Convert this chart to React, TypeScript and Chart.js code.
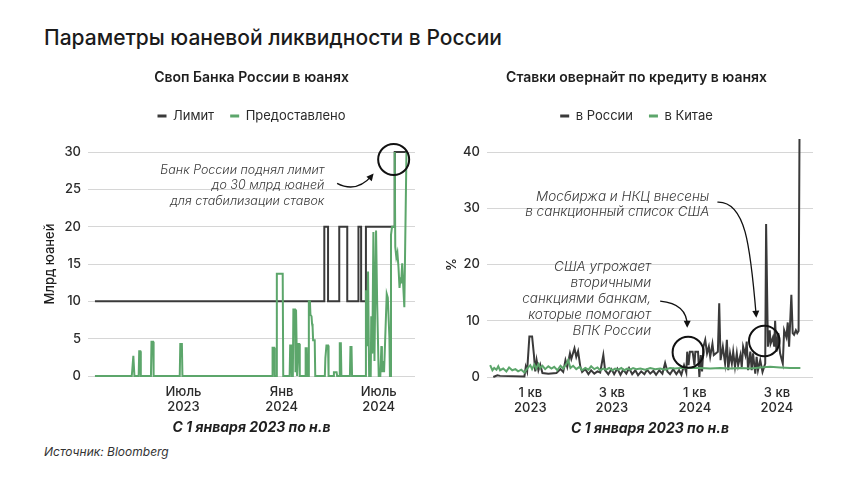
import React, { useEffect, useRef } from "react";
import { Chart, registerables } from "chart.js";

Chart.register(...registerables);

const FONT = "Inter, 'Noto Sans', 'DejaVu Sans', sans-serif";
const DARK = "#3a3a3a";
const GREEN = "#5ca66b";
const GRID = "#d6d6d6";
const TEXT = "#2a2a2a";

// ---------- Left chart: swap (days since 1 Jan 2023) ----------
const swapLimitDays = [15, 445, 452, 473, 488, 509, 514, 523, 577, 600];
const swapLimitValues = [10, 20, 10, 20, 10, 20, 10, 20, 30, 30];

const swapProvidedDays = [
  15, 84, 85, 86, 87, 88, 89,
  97, 98, 100, 101,
  120, 121, 124, 125,
  174, 175, 178, 179,
  347, 348, 351, 352,
  355, 356, 367, 368,
  380, 381, 383, 384,
  386, 387, 390, 391, 392, 393, 394,
  395, 396, 398, 399,
  409, 410, 412, 413,
  415, 416, 418, 419, 421, 422, 423, 424, 427, 428,
  446, 447, 448, 449, 452, 453,
  462, 463, 468, 469,
  473, 474, 476, 477,
  493, 494, 496, 497,
  522, 523, 525, 527, 529, 532, 533, 535, 537, 539, 542, 544, 547,
  550, 552, 553, 555, 557, 562, 564, 567, 568,
  569, 570, 572, 576, 577, 578, 580, 582, 584, 586, 588, 589, 591, 593, 595, 599,
];
const swapProvidedValues = [
  0, 0, 0.8, 0.8, 2.7, 2.7, 0,
  0, 3.3, 3.3, 0,
  0, 4.6, 4.6, 0,
  0, 4.3, 4.3, 0,
  0, 3.8, 3.8, 0,
  0, 13.7, 13.7, 0,
  0, 4.1, 4.1, 0,
  0, 8.9, 8.9, 0.5, 8.9, 8.9, 0,
  0, 4.3, 4.3, 0,
  0, 3.7, 3.7, 0,
  0, 10, 10, 8.2, 8.0, 7.0, 6.6, 4.8, 4.8, 0,
  0, 2.4, 2.4, 4.1, 4.1, 0,
  0, 0.5, 0.5, 0,
  0, 4.4, 4.4, 0,
  0, 3.9, 3.9, 0,
  0, 11.5, 4, 14, 0, 0, 8, 3, 19.3, 2, 19.5, 10, 0,
  0, 4, 0.5, 2, 0.5, 11, 10.5, 5.2, 0,
  0, 18.9, 20, 20, 30, 17.3, 15.9, 16.5, 14.6, 11.8, 13.2, 12.4, 15.1, 12, 9.2, 30,
];
const swapTickDays = [181, 365, 547];
const swapTickLabels = [["Июль", "2023"], ["Янв", "2024"], ["Июль", "2024"]];

// ---------- Right chart: overnight rates (days since 1 Jan 2023) ----------
const rateRuDays = [
  -82, -73, -67, -13, -10, -7, -2, 4, 8, 11, 14, 18, 22, 27,
  40, 58, 67, 73, 78, 82, 88, 91, 98, 102, 106, 111, 115, 122, 129, 135, 142, 149, 155, 162, 166, 173,
  180, 186, 193, 200, 206, 213, 219, 226, 233, 239, 246, 253, 259, 266, 273, 279, 286, 293, 299, 304, 310, 317, 324, 330, 335, 341, 346,
  348, 351, 354, 360, 364, 366, 372, 375, 378, 381, 384, 388, 392, 396, 399, 404, 407, 416, 419, 422,
  427, 432, 436, 439, 443, 447, 450, 454, 458, 461, 466, 469, 472, 477, 480, 483, 488, 491, 494, 499, 502, 505, 510, 515, 521,
  523, 527, 531, 533, 538, 541, 543, 546, 550, 554, 558, 560, 563, 568, 571, 574, 579, 582, 585, 589, 592, 595, 597,
];
const rateRuValues = [
  0, 0.3, 0.2, 0.1, 1.8, 1.0, 7.2, 7.2, 4.0, 1.0, 3.0, 1.2, 2.2, 0.7,
  0.6, 0.7, 1.4, 0.9, 3.0, 1.8, 4.2, 3.2, 5.1, 3.6, 4.6, 1.8, 0.9, 1.4, 0.5, 1.2, 0.6, 1.0, 0.8, 3.9, 1.2, 0.5,
  1.4, 0.5, 1.5, 0.4, 1.3, 0.6, 1.6, 0.5, 1.2, 0.3, 1.0, 0.5, 1.3, 0.6, 1.1, 0.4, 1.2, 0.6, 2.5, 1.0, 0.5, 1.4, 0.5, 1.2, 0.4, 2.1, 0.8,
  4.5, 2.1, 4.5, 4.5, 2.1, 4.5, 4.5, 0, 3.9, 1.0, 5.4, 6.6, 4.2, 5.4, 3.6, 5.9, 3.9, 4.5, 13.1, 3.0,
  5.4, 2.4, 6.6, 1.2, 4.2, 2.4, 4.5, 1.8, 4.2, 2.1, 3.9, 1.8, 5.4, 3.9, 6.3, 1.2, 4.5, 1.2, 4.2, 0.6, 3.6, 1.2, 3.0, 0.9, 2.4,
  27.2, 5.4, 8.3, 5.9, 7.0, 5.4, 10, 4.5, 7.8, 4.2, 3.0, 2.4, 8.3, 7.1, 9.7, 5.4, 14.6, 7.8, 7.5, 8.3, 7.8, 8.2, 42.3,
];
const rateCnDays = [
  -89, -84, -80, -75, -71, -67, -60, -53, -47, -40, -33, -27, -20, -13, -7,
  0, 4, 9, 13, 18, 22, 27, 33, 40, 47, 53, 60, 67, 73, 80, 84, 89, 95,
  102, 109, 115, 122, 129, 135, 142, 149, 155, 162, 168, 175, 182, 188, 195, 202, 208, 215, 222, 228, 235,
  244, 255, 266, 277, 288, 299, 310, 321, 333, 355, 377, 399, 421, 443, 466, 488, 510, 532, 554, 576, 599,
];
const rateCnValues = [
  2.1, 1.2, 1.6, 1.3, 1.9, 1.2, 1.5, 1.0, 1.7, 1.2, 1.4, 1.0, 1.3, 0.8, 1.5,
  2.1, 1.4, 2.2, 1.5, 2.3, 1.6, 2.0, 1.4, 1.9, 1.5, 1.8, 1.2, 2.0, 1.5, 2.3, 3.0, 1.6, 2.0,
  1.4, 1.8, 1.2, 1.6, 1.3, 1.9, 1.4, 1.7, 1.2, 1.5, 1.3, 1.6, 1.2, 1.5, 1.3, 1.6, 1.2, 1.5, 1.3, 1.6, 1.4,
  1.5, 1.3, 1.6, 1.4, 1.5, 1.3, 1.6, 1.5, 1.6, 1.6, 1.6, 1.5, 1.6, 1.5, 1.6, 1.5, 1.7, 1.8, 1.7, 1.6, 1.6,
];
const rateTickDays = [0, 181, 365, 547];
const rateTickLabels = [["1 кв", "2023"], ["3 кв", "2023"], ["1 кв", "2024"], ["3 кв", "2024"]];

// ---------- Annotations (data units) ----------
type Ann = {
  circles: { x: number; y: number; r: number }[];
  arrows: [number, number][][];
  notes: { x: number; y: number; lines: string[]; lineHeight: number; size: number }[];
};

const swapAnn: Ann = {
  circles: [{ x: 575, y: 29.0, r: 15.5 }],
  arrows: [[[469, 25.8], [493, 24.9], [516, 25.3], [535, 26.9]]],
  notes: [
    {
      x: 445,
      y: 27.6,
      lines: ["Банк России поднял лимит", "до 30 млрд юаней", "для стабилизации ставок"],
      lineHeight: 15.5,
      size: 12.5,
    },
  ],
};

const rateAnn: Ann = {
  circles: [
    { x: 350, y: 4.4, r: 15.5 },
    { x: 519, y: 6.4, r: 15.3 },
  ],
  arrows: [
    [[415, 31.1], [477, 31.3], [488, 23.5], [501, 10.9]],
    [[288, 13.5], [328, 13.2], [348, 11.6], [348, 9.1]],
  ],
  notes: [
    { x: 397, y: 32.1, lines: ["Мосбиржа и НКЦ внесены", "в санкционный список США"], lineHeight: 15, size: 13.5 },
    {
      x: 268,
      y: 19.6,
      lines: ["США угрожает", "вторичными", "санкциями банкам,", "которые помогают", "ВПК России"],
      lineHeight: 16,
      size: 13.5,
    },
  ],
};

const zip = (xs: number[], ys: number[]) => xs.map((x, i) => ({ x, y: ys[i] }));

function annotationPlugin(ann: Ann) {
  return {
    id: "notes",
    afterDatasetsDraw(chart: any) {
      const { ctx } = chart;
      const xs = chart.scales.x;
      const ys = chart.scales.y;
      const px = (v: number) => xs.getPixelForValue(v);
      const py = (v: number) => ys.getPixelForValue(v);
      ctx.save();
      ctx.strokeStyle = "#111";
      ctx.fillStyle = "#111";
      for (const c of ann.circles) {
        ctx.beginPath();
        ctx.lineWidth = 2;
        ctx.arc(px(c.x), py(c.y), c.r, 0, Math.PI * 2);
        ctx.stroke();
      }
      for (const a of ann.arrows) {
        const p = a.map(([dx, dy]) => [px(dx), py(dy)]);
        ctx.beginPath();
        ctx.lineWidth = 1.3;
        ctx.moveTo(p[0][0], p[0][1]);
        ctx.bezierCurveTo(p[1][0], p[1][1], p[2][0], p[2][1], p[3][0], p[3][1]);
        ctx.stroke();
        const ang = Math.atan2(p[3][1] - p[2][1], p[3][0] - p[2][0]);
        const L = 7;
        const W = 3.5;
        const tx = p[3][0] + Math.cos(ang) * 2;
        const ty = p[3][1] + Math.sin(ang) * 2;
        const bx = tx - Math.cos(ang) * L;
        const by = ty - Math.sin(ang) * L;
        ctx.beginPath();
        ctx.moveTo(tx, ty);
        ctx.lineTo(bx - Math.sin(ang) * W, by + Math.cos(ang) * W);
        ctx.lineTo(bx + Math.sin(ang) * W, by - Math.cos(ang) * W);
        ctx.closePath();
        ctx.fill();
      }
      ctx.fillStyle = "#3a3a3a";
      ctx.textAlign = "right";
      ctx.textBaseline = "middle";
      for (const n of ann.notes) {
        ctx.font = `italic 300 ${n.size}px ${FONT}`;
        n.lines.forEach((line, i) => {
          ctx.fillText(line, px(n.x), py(n.y) + i * n.lineHeight);
        });
      }
      ctx.restore();
    },
  };
}

function legendLabels() {
  return {
    color: TEXT,
    font: { family: FONT, size: 13 },
    boxWidth: 9,
    boxHeight: 3,
    padding: 16,
    sort: (a: any, b: any) => a.datasetIndex - b.datasetIndex,
    generateLabels: (chart: any) =>
      (Chart as any).defaults.plugins.legend.labels
        .generateLabels(chart)
        .map((l: any) => ({ ...l, lineWidth: 0, fillStyle: l.strokeStyle })),
  };
}

function xAxis(min: number, max: number, tickDays: number[], tickLabels: string[][]) {
  return {
    type: "linear",
    min,
    max,
    grid: { display: false, drawTicks: false },
    border: { display: false },
    afterBuildTicks: (s: any) => {
      s.ticks = tickDays.map((v) => ({ value: v }));
    },
    afterFit: (s: any) => {
      s.height = 60;
    },
    ticks: {
      autoSkip: false,
      maxRotation: 0,
      padding: 8,
      color: TEXT,
      font: { family: FONT, size: 13, weight: 500 },
      callback: (v: any) => {
        const i = tickDays.indexOf(Number(v));
        return i >= 0 ? tickLabels[i] : "";
      },
    },
    title: {
      display: true,
      text: "С 1 января 2023 по н.в",
      color: "#1e1e1e",
      font: { family: FONT, size: 14, weight: 700, style: "italic" },
      padding: { top: 0, bottom: 0 },
    },
  };
}

function yAxis(max: number, step: number, width: number, title: string, titlePad: number) {
  return {
    min: 0,
    max,
    grid: { color: GRID, lineWidth: 1, drawTicks: false },
    border: { display: false },
    afterFit: (s: any) => {
      s.width = width;
    },
    ticks: {
      stepSize: step,
      padding: 7,
      color: TEXT,
      font: { family: FONT, size: 13, weight: 500 },
    },
    title: {
      display: true,
      text: title,
      color: "#1e1e1e",
      font: { family: FONT, size: 13, weight: 500 },
      padding: { top: titlePad, bottom: 0 },
    },
  };
}

function topBoxes(text: string, fullSize: boolean) {
  return {
    title: {
      display: true,
      text,
      fullSize,
      color: "#1e1e1e",
      font: { family: FONT, size: 14, weight: 600 },
      padding: { top: 13.6, bottom: 7.1 },
    },
    legend: { display: true, position: "top", fullSize, labels: legendLabels() },
    subtitle: {
      display: true,
      text: "",
      weight: 500,
      fullSize,
      font: { size: 10 },
      padding: { top: 0, bottom: 7.5 },
    },
    tooltip: { enabled: false },
  };
}

export default function App() {
  const leftRef = useRef<HTMLCanvasElement>(null);
  const rightRef = useRef<HTMLCanvasElement>(null);

  useEffect(() => {
    Chart.defaults.font.family = FONT;
    const left = new Chart(leftRef.current as HTMLCanvasElement, {
      type: "line",
      data: {
        datasets: [
          {
            label: "Лимит",
            data: zip(swapLimitDays, swapLimitValues),
            borderColor: DARK,
            backgroundColor: DARK,
            borderWidth: 2,
            stepped: "before",
            pointRadius: 0,
            clip: false,
            order: 1,
          },
          {
            label: "Предоставлено",
            data: zip(swapProvidedDays, swapProvidedValues),
            borderColor: GREEN,
            backgroundColor: GREEN,
            borderWidth: 2,
            pointRadius: 0,
            clip: false,
            order: 0,
          },
        ],
      },
      options: {
        responsive: false,
        animation: false,
        events: [],
        devicePixelRatio: 1,
        layout: { padding: { left: 0, right: 15, top: 0, bottom: 4 } },
        plugins: topBoxes("Своп Банка России в юанях", false) as any,
        scales: {
          x: xAxis(2, 615, swapTickDays, swapTickLabels) as any,
          y: yAxis(30, 5, 88, "Млрд юаней", 42) as any,
        },
      },
      plugins: [annotationPlugin(swapAnn)],
    } as any);

    const right = new Chart(rightRef.current as HTMLCanvasElement, {
      type: "line",
      data: {
        datasets: [
          {
            label: "в России",
            data: zip(rateRuDays, rateRuValues),
            borderColor: DARK,
            backgroundColor: DARK,
            borderWidth: 2,
            pointRadius: 0,
            clip: false,
            order: 1,
          },
          {
            label: "в Китае",
            data: zip(rateCnDays, rateCnValues),
            borderColor: GREEN,
            backgroundColor: GREEN,
            borderWidth: 2,
            pointRadius: 0,
            clip: false,
            order: 0,
          },
        ],
      },
      options: {
        responsive: false,
        animation: false,
        events: [],
        devicePixelRatio: 1,
        layout: { padding: { left: 30, right: 47, top: 0, bottom: 3 } },
        plugins: topBoxes("Ставки овернайт по кредиту в юанях", true) as any,
        scales: {
          x: xAxis(-96, 627, rateTickDays, rateTickLabels) as any,
          y: yAxis(40, 10, 27, "%", -16) as any,
        },
      },
      plugins: [annotationPlugin(rateAnn)],
    } as any);

    return () => {
      left.destroy();
      right.destroy();
    };
  }, []);

  return (
    <div
      style={{
        position: "absolute",
        left: 0,
        top: 0,
        width: 860,
        height: 484,
        background: "#fff",
        overflow: "hidden",
        fontFamily: FONT,
      }}
    >
      <div
        style={{
          position: "absolute",
          left: 44,
          top: 25,
          fontSize: 21,
          lineHeight: "26px",
          fontWeight: 500,
          color: "#1b1b1b",
          whiteSpace: "nowrap",
        }}
      >
        Параметры юаневой ликвидности в России
      </div>
      <canvas
        ref={leftRef}
        width={430}
        height={384}
        style={{ position: "absolute", left: 0, top: 56, display: "block" }}
      />
      <canvas
        ref={rightRef}
        width={430}
        height={384}
        style={{ position: "absolute", left: 430, top: 56, display: "block" }}
      />
      <div
        style={{
          position: "absolute",
          left: 44,
          top: 444,
          fontSize: 12,
          lineHeight: "16px",
          fontStyle: "italic",
          color: "#333",
          whiteSpace: "nowrap",
        }}
      >
        Источник: Bloomberg
      </div>
    </div>
  );
}
